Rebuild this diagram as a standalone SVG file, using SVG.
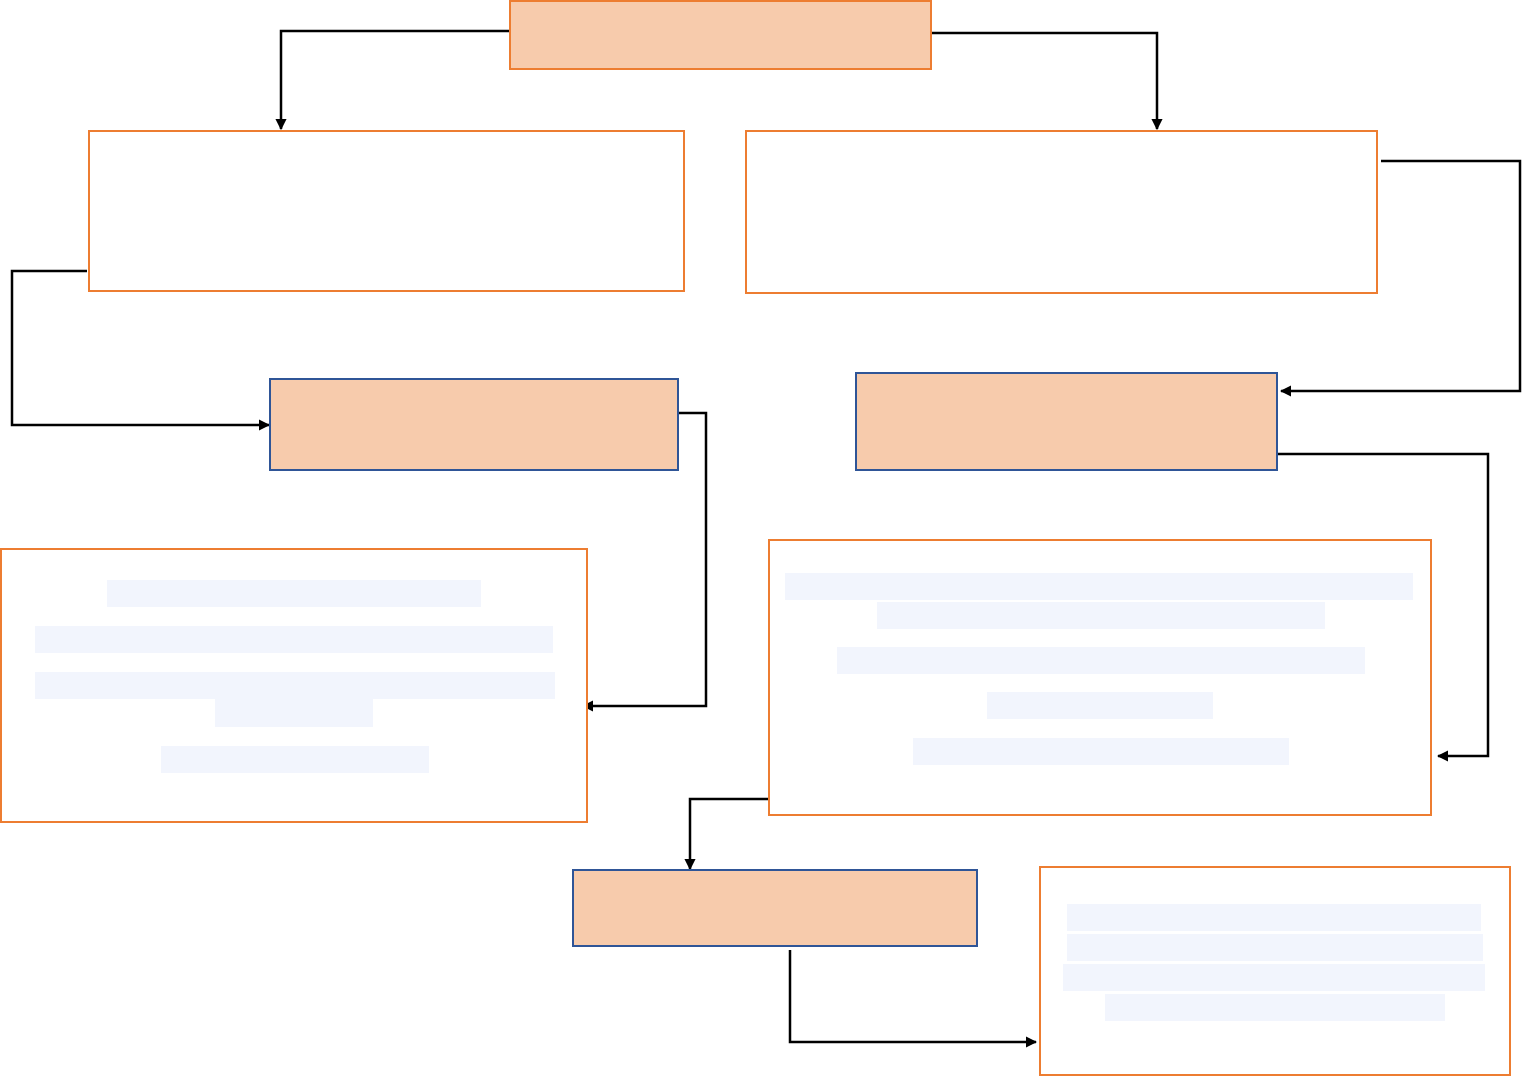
<svg xmlns="http://www.w3.org/2000/svg" width="1523" height="1077" viewBox="0 0 1523 1077">
<style>
.peach{fill:#F7CBAC;stroke:#ED7D31;stroke-width:2}
.peachb{fill:#F7CBAC;stroke:#2F5597;stroke-width:2}
.white{fill:#FFFFFF;stroke:#ED7D31;stroke-width:2}
.hl{fill:#F2F5FD}
.conn{fill:none;stroke:#000;stroke-width:2.5;marker-end:url(#arr)}
</style>
<defs>
<marker id="arr" viewBox="0 0 10 10" refX="9" refY="5" markerWidth="4.5" markerHeight="4.5" orient="auto" markerUnits="strokeWidth">
<path d="M0,0 L10,5 L0,10 z" fill="#000"/>
</marker>
</defs>
<rect width="1523" height="1077" fill="#FFFFFF"/>
<g id="connectors">
<path class="conn" d="M512,31 H281 V129"/>
<path class="conn" d="M931,33 H1157 V129"/>
<path class="conn" d="M87,271 H12 V425 H269"/>
<path class="conn" d="M1381,161 H1520 V391 H1281"/>
<path class="conn" d="M678,413 H706 V706 H583"/>
<path class="conn" d="M1277,454 H1488 V756 H1438"/>
<path class="conn" d="M769,799 H690 V869"/>
<path class="conn" d="M790,950 V1042 H1036"/>
</g>
<g id="node-top"><rect class="peach" x="510" y="1" width="421" height="68"/></g>
<g id="node-left1"><rect class="white" x="89" y="131" width="595" height="160"/></g>
<g id="node-right1"><rect class="white" x="746" y="131" width="631" height="162"/></g>
<g id="node-left2"><rect class="peachb" x="270" y="379" width="408" height="91"/></g>
<g id="node-right2"><rect class="peachb" x="856" y="373" width="421" height="97"/></g>
<g id="node-left3">
<rect class="white" x="1" y="549" width="586" height="273"/>
<rect class="hl" x="107" y="580" width="374" height="27"/>
<rect class="hl" x="35" y="626" width="518" height="27"/>
<rect class="hl" x="35" y="672" width="520" height="27"/>
<rect class="hl" x="215" y="699" width="158" height="28"/>
<rect class="hl" x="161" y="746" width="268" height="27"/>
</g>
<g id="node-right3">
<rect class="white" x="769" y="540" width="662" height="275"/>
<rect class="hl" x="785" y="573" width="628" height="27"/>
<rect class="hl" x="877" y="602" width="448" height="27"/>
<rect class="hl" x="837" y="647" width="528" height="27"/>
<rect class="hl" x="987" y="692" width="226" height="27"/>
<rect class="hl" x="913" y="738" width="376" height="27"/>
</g>
<g id="node-bottom"><rect class="peachb" x="573" y="870" width="404" height="76"/></g>
<g id="node-bottomright">
<rect class="white" x="1040" y="867" width="470" height="208"/>
<rect class="hl" x="1067" y="904" width="414" height="27"/>
<rect class="hl" x="1067" y="934" width="416" height="27"/>
<rect class="hl" x="1063" y="964" width="422" height="27"/>
<rect class="hl" x="1105" y="994" width="340" height="27"/>
</g>
</svg>
